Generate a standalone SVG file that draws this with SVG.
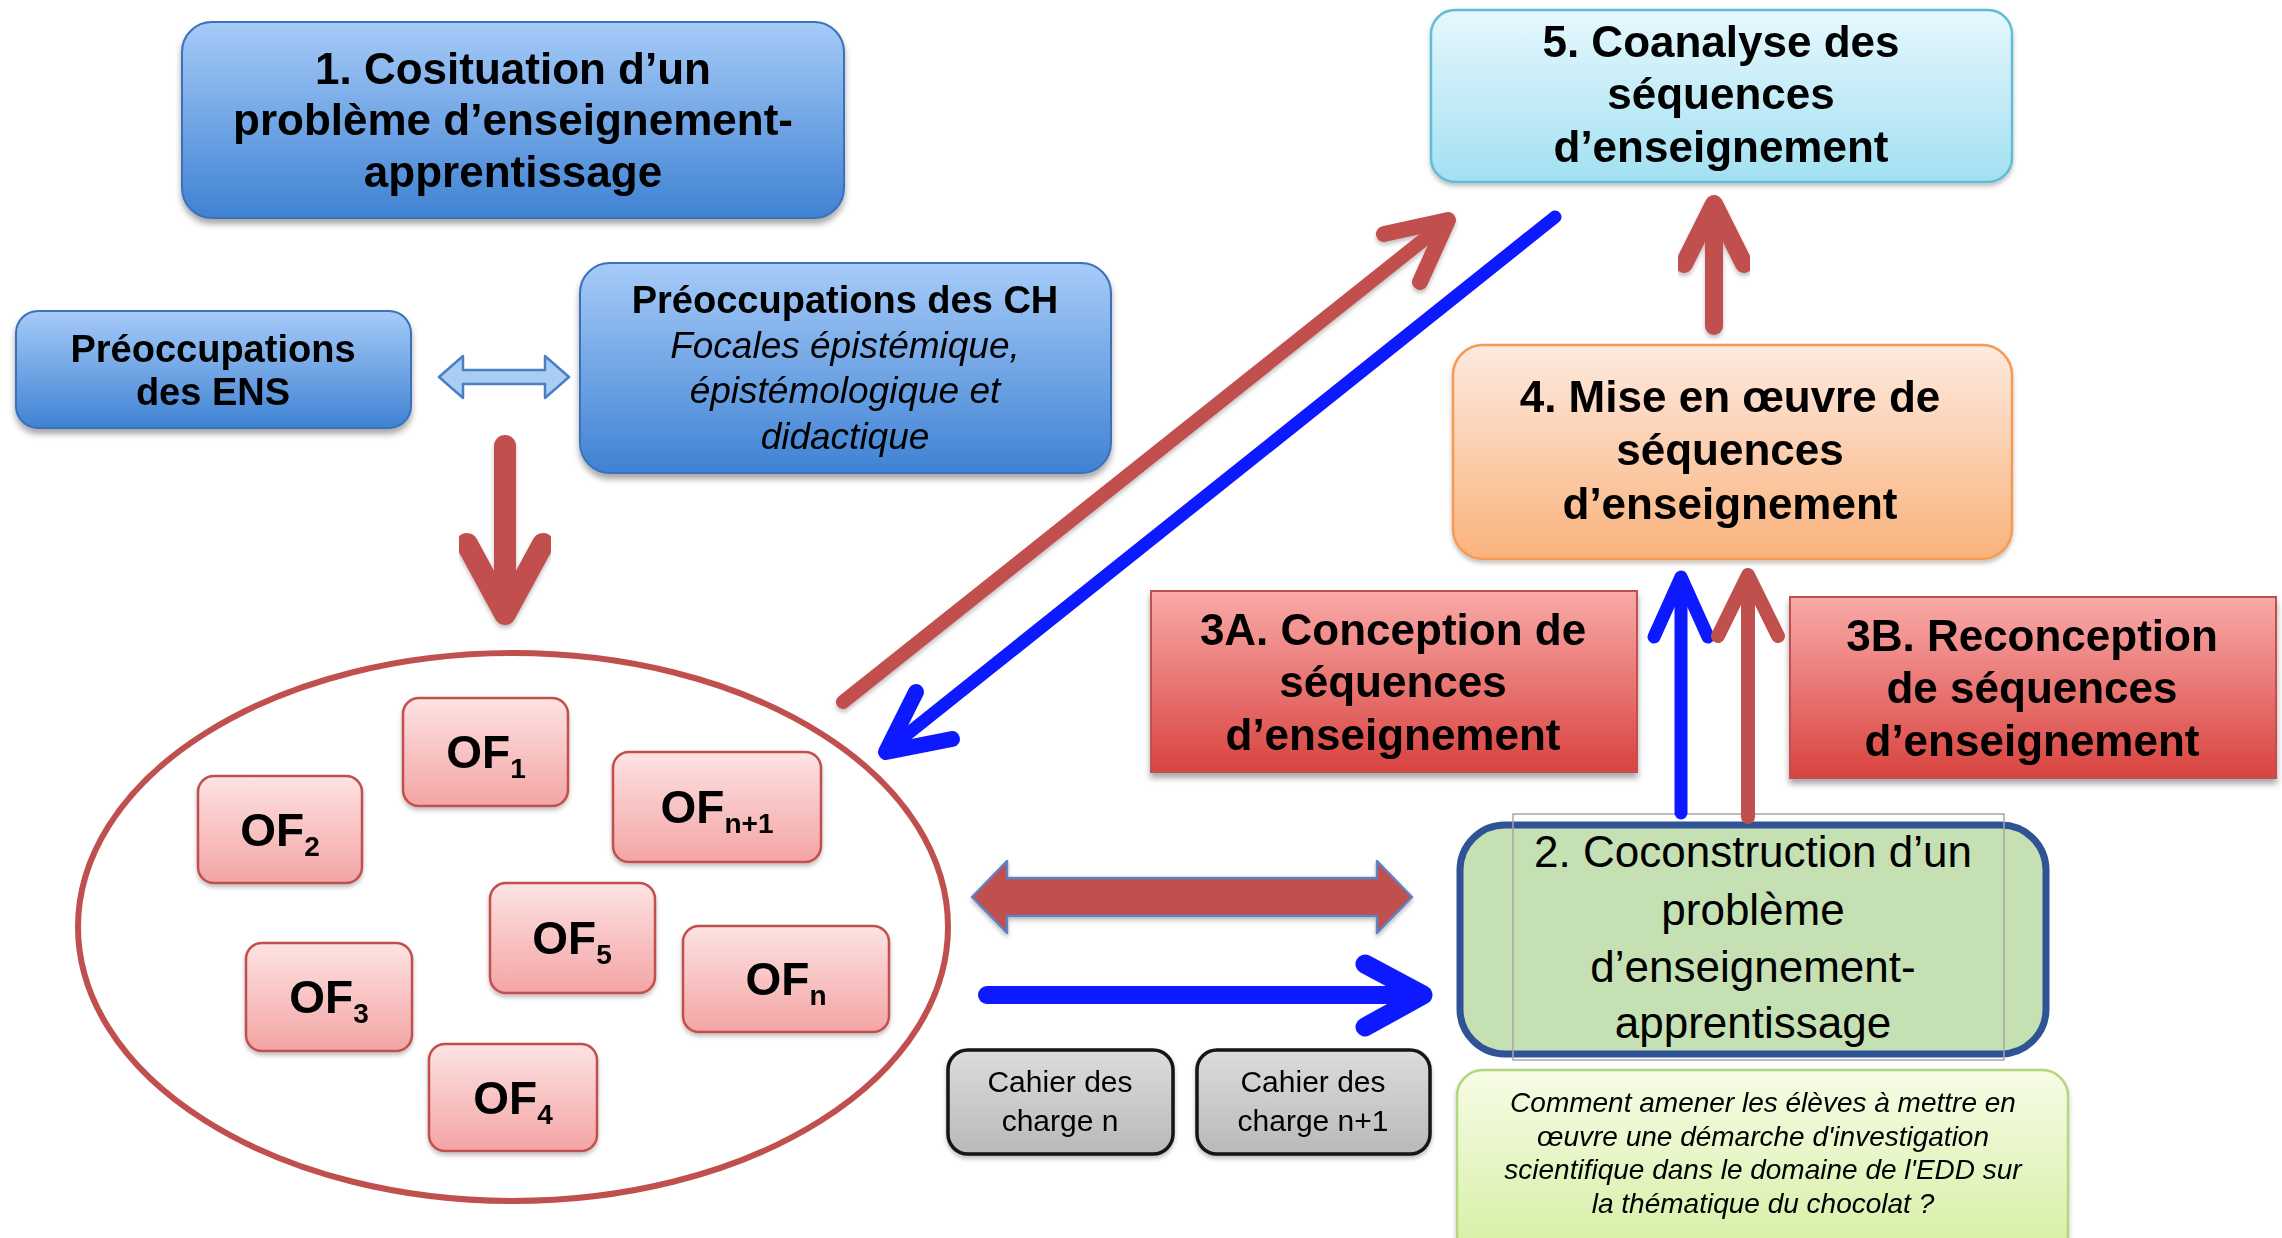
<svg xmlns="http://www.w3.org/2000/svg" width="2282" height="1238" viewBox="0 0 2282 1238">
  <defs>
    <linearGradient id="gBlue" x1="0" y1="0" x2="0" y2="1">
      <stop offset="0" stop-color="#a6cbf8"/>
      <stop offset="1" stop-color="#3f82d3"/>
    </linearGradient>
    <linearGradient id="gCyan" x1="0" y1="0" x2="0" y2="1">
      <stop offset="0" stop-color="#e6f8fd"/>
      <stop offset="1" stop-color="#a2e0f2"/>
    </linearGradient>
    <linearGradient id="gOrange" x1="0" y1="0" x2="0" y2="1">
      <stop offset="0" stop-color="#fdeadf"/>
      <stop offset="1" stop-color="#fab27c"/>
    </linearGradient>
    <linearGradient id="gRed" x1="0" y1="0" x2="0" y2="1">
      <stop offset="0" stop-color="#f9aaa8"/>
      <stop offset="1" stop-color="#d8433f"/>
    </linearGradient>
    <linearGradient id="gPink" x1="0" y1="0" x2="0" y2="1">
      <stop offset="0" stop-color="#fde3e3"/>
      <stop offset="1" stop-color="#f4a4a4"/>
    </linearGradient>
    <linearGradient id="gGray" x1="0" y1="0" x2="0" y2="1">
      <stop offset="0" stop-color="#dcdcdc"/>
      <stop offset="1" stop-color="#b9b9b9"/>
    </linearGradient>
    <linearGradient id="gLime" x1="0" y1="0" x2="0" y2="1">
      <stop offset="0" stop-color="#f7fce6"/>
      <stop offset="1" stop-color="#d4efa2"/>
    </linearGradient>
    <filter id="shadow" x="-10%" y="-10%" width="120%" height="130%">
      <feDropShadow dx="0" dy="5" stdDeviation="3" flood-color="#000" flood-opacity="0.35"/>
    </filter>
    <filter id="soft" x="-10%" y="-10%" width="120%" height="130%">
      <feDropShadow dx="0" dy="3" stdDeviation="2" flood-color="#000" flood-opacity="0.25"/>
    </filter>
  </defs>
  <style>
    text { font-family: "Liberation Sans", Arial, sans-serif; fill: #000; text-anchor: middle; }
    .b44 { font-size: 44px; font-weight: bold; }
    .b38 { font-size: 38px; font-weight: bold; }
    .i37 { font-size: 37px; font-style: italic; }
    .of { font-size: 46px; font-weight: bold; }
    .sub { font-size: 28px; }
    .cahier { font-size: 30px; }
    .calib { font-size: 44px; }
    .q { font-size: 28px; font-style: italic; }
    .blueBox { fill: url(#gBlue); stroke: #3a70bb; stroke-width: 2; }
    .ofBox { fill: url(#gPink); stroke: #c0504d; stroke-width: 2.5; }
    .redBox { fill: url(#gRed); stroke: #c0504d; stroke-width: 2; }
    .grayBox { fill: url(#gGray); stroke: #141414; stroke-width: 3.5; }
    .redLine { fill: none; stroke: #c0504d; stroke-linecap: round; stroke-linejoin: round; }
    .blueLine { fill: none; stroke: #0d1aff; stroke-linecap: round; stroke-linejoin: round; }
  </style>

  <rect width="2282" height="1238" fill="#ffffff"/>

  <!-- 1. Cosituation -->
  <g id="node-cosituation" filter="url(#shadow)">
    <rect class="blueBox" x="182" y="22" width="662" height="196" rx="30"/>
    <text class="b44" x="513" y="84">1. Cosituation d’un</text>
    <text class="b44" x="513" y="135">problème d’enseignement-</text>
    <text class="b44" x="513" y="187">apprentissage</text>
  </g>

  <!-- Préoccupations des ENS -->
  <g id="node-ens" filter="url(#shadow)">
    <rect class="blueBox" x="16" y="311" width="395" height="117" rx="22"/>
    <text class="b38" x="213" y="362">Préoccupations</text>
    <text class="b38" x="213" y="405">des ENS</text>
  </g>

  <!-- Préoccupations des CH -->
  <g id="node-ch" filter="url(#shadow)">
    <rect class="blueBox" x="580" y="263" width="531" height="210" rx="30"/>
    <text class="b38" x="845" y="313">Préoccupations des CH</text>
    <text class="i37" x="845" y="358">Focales épistémique,</text>
    <text class="i37" x="845" y="403">épistémologique et</text>
    <text class="i37" x="845" y="449">didactique</text>
  </g>

  <!-- 5. Coanalyse -->
  <g id="node-coanalyse" filter="url(#soft)">
    <rect x="1431" y="10" width="581" height="172" rx="24" fill="url(#gCyan)" stroke="#62bdd4" stroke-width="2.5"/>
    <text class="b44" x="1721" y="57">5. Coanalyse des</text>
    <text class="b44" x="1721" y="109">séquences</text>
    <text class="b44" x="1721" y="162">d’enseignement</text>
  </g>

  <!-- 4. Mise en oeuvre -->
  <g id="node-mise-en-oeuvre" filter="url(#soft)">
    <rect x="1453" y="345" width="559" height="214" rx="30" fill="url(#gOrange)" stroke="#f59a52" stroke-width="2.5"/>
    <text class="b44" x="1730" y="412">4. Mise en œuvre de</text>
    <text class="b44" x="1730" y="465">séquences</text>
    <text class="b44" x="1730" y="519">d’enseignement</text>
  </g>

  <!-- 3A. Conception -->
  <g id="node-conception" filter="url(#shadow)">
    <rect class="redBox" x="1151" y="591" width="486" height="181"/>
    <text class="b44" x="1393" y="645">3A. Conception de</text>
    <text class="b44" x="1393" y="697">séquences</text>
    <text class="b44" x="1393" y="750">d’enseignement</text>
  </g>

  <!-- 3B. Reconception -->
  <g id="node-reconception" filter="url(#shadow)">
    <rect class="redBox" x="1790" y="597" width="486" height="181"/>
    <text class="b44" x="2032" y="651">3B. Reconception</text>
    <text class="b44" x="2032" y="703">de séquences</text>
    <text class="b44" x="2032" y="756">d’enseignement</text>
  </g>

  <!-- Ensemble des OF -->
  <g id="node-of-set">
    <ellipse cx="513" cy="927" rx="435" ry="274" fill="none" stroke="#c0504d" stroke-width="6"/>
  </g>
  <g id="node-of1" filter="url(#soft)">
    <rect class="ofBox" x="403" y="698" width="165" height="108" rx="16"/>
    <text class="of" x="486" y="768">OF<tspan class="sub" dy="10">1</tspan></text>
  </g>
  <g id="node-of2" filter="url(#soft)">
    <rect class="ofBox" x="198" y="776" width="164" height="107" rx="16"/>
    <text class="of" x="280" y="846">OF<tspan class="sub" dy="10">2</tspan></text>
  </g>
  <g id="node-ofn1" filter="url(#soft)">
    <rect class="ofBox" x="613" y="752" width="208" height="110" rx="16"/>
    <text class="of" x="717" y="823">OF<tspan class="sub" dy="10">n+1</tspan></text>
  </g>
  <g id="node-of5" filter="url(#soft)">
    <rect class="ofBox" x="490" y="883" width="165" height="110" rx="16"/>
    <text class="of" x="572" y="954">OF<tspan class="sub" dy="10">5</tspan></text>
  </g>
  <g id="node-of3" filter="url(#soft)">
    <rect class="ofBox" x="246" y="943" width="166" height="108" rx="16"/>
    <text class="of" x="329" y="1013">OF<tspan class="sub" dy="10">3</tspan></text>
  </g>
  <g id="node-ofn" filter="url(#soft)">
    <rect class="ofBox" x="683" y="926" width="206" height="106" rx="16"/>
    <text class="of" x="786" y="995">OF<tspan class="sub" dy="10">n</tspan></text>
  </g>
  <g id="node-of4" filter="url(#soft)">
    <rect class="ofBox" x="429" y="1044" width="168" height="107" rx="16"/>
    <text class="of" x="513" y="1114">OF<tspan class="sub" dy="10">4</tspan></text>
  </g>

  <!-- 2. Coconstruction -->
  <g id="node-coconstruction">
    <rect x="1460" y="825" width="586" height="229" rx="45" fill="#c5e0b3" stroke="#2f5496" stroke-width="7"/>
    <rect x="1513" y="814" width="491" height="246" fill="none" stroke="#a6a6a6" stroke-width="1.5"/>
    <text class="calib" x="1753" y="867">2. Coconstruction d’un</text>
    <text class="calib" x="1753" y="925">problème</text>
    <text class="calib" x="1753" y="982">d’enseignement-</text>
    <text class="calib" x="1753" y="1038">apprentissage</text>
  </g>

  <!-- Question -->
  <g id="node-question" filter="url(#soft)">
    <rect x="1457" y="1070" width="611" height="190" rx="26" fill="url(#gLime)" stroke="#b3d77f" stroke-width="2.5"/>
    <text class="q" x="1763" y="1112">Comment amener les élèves à mettre en</text>
    <text class="q" x="1763" y="1146">œuvre une démarche d'investigation</text>
    <text class="q" x="1763" y="1179">scientifique dans le domaine de l'EDD sur</text>
    <text class="q" x="1763" y="1213">la thématique du chocolat ?</text>
  </g>

  <!-- Cahiers des charges -->
  <g id="node-cahier-n" filter="url(#soft)">
    <rect class="grayBox" x="948" y="1050" width="225" height="104" rx="20"/>
    <text class="cahier" x="1060" y="1092">Cahier des</text>
    <text class="cahier" x="1060" y="1131">charge n</text>
  </g>
  <g id="node-cahier-n1" filter="url(#soft)">
    <rect class="grayBox" x="1197" y="1050" width="233" height="104" rx="20"/>
    <text class="cahier" x="1313" y="1092">Cahier des</text>
    <text class="cahier" x="1313" y="1131">charge n+1</text>
  </g>

  <!-- Connectors -->
  <g id="connectors">
    <!-- ENS <-> CH -->
    <path d="M439,377 L463,356 L463,370 L545,370 L545,356 L569,377 L545,398 L545,384 L463,384 L463,398 Z" fill="#a9cdf3" stroke="#4a7fc4" stroke-width="2.5" stroke-linejoin="round"/>

    <!-- préoccupations -> OF -->
    <g filter="url(#soft)">
      <path class="redLine" d="M505,446 L505,612" stroke-width="22" stroke-linecap="butt"/>
      <path class="redLine" d="M467,544 L505,614 L543,544" stroke-width="22"/>
    </g>

    <!-- OF -> 5 -->
    <g filter="url(#soft)">
      <path class="redLine" d="M843,702 L1446,222" stroke-width="14" stroke-linecap="butt"/>
      <path class="redLine" d="M1384,234 L1448,220 L1420,282" stroke-width="16"/>
    </g>

    <!-- 5 -> OF -->
    <path class="blueLine" d="M1555,217 L890,748" stroke-width="13" stroke-linecap="butt"/>
    <path class="blueLine" d="M916,692 L886,752 L952,739" stroke-width="16"/>

    <!-- 4 -> 5 -->
    <g filter="url(#soft)">
      <path class="redLine" d="M1714,326 L1714,206" stroke-width="18" stroke-linecap="butt"/>
      <path class="redLine" d="M1684,264 L1714,204 L1744,264" stroke-width="18"/>
    </g>

    <!-- 2 -> 4 (blue) -->
    <path class="blueLine" d="M1681,813 L1681,582" stroke-width="13" stroke-linecap="butt"/>
    <path class="blueLine" d="M1654,637 L1681,577 L1708,637" stroke-width="13"/>

    <!-- 2 -> 4 (red) -->
    <path class="redLine" d="M1748,817 L1748,580" stroke-width="14" stroke-linecap="butt"/>
    <path class="redLine" d="M1718,636 L1748,575 L1778,636" stroke-width="14"/>

    <!-- OF <-> 2 -->
    <path filter="url(#soft)" d="M972,897 L1007,861 L1007,878 L1377,878 L1377,861 L1412,897 L1377,933 L1377,916 L1007,916 L1007,933 Z" fill="#c0504d" stroke="#5b84c2" stroke-width="2.5" stroke-linejoin="round"/>

    <!-- OF -> 2 -->
    <path class="blueLine" d="M987,995 L1414,995" stroke-width="18" stroke-linecap="butt"/>
    <path class="blueLine" d="M1365,964 L1423,995 L1365,1027" stroke-width="19"/>
  </g>
</svg>
